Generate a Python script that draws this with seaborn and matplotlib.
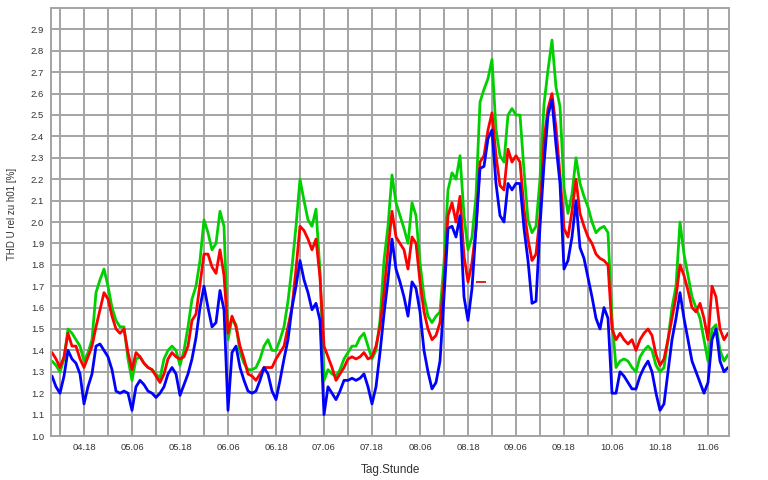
import numpy as np
import pandas as pd
import matplotlib
matplotlib.use("Agg")
import matplotlib.pyplot as plt
import seaborn as sns

# hours since day 04 00:00
hours = list(range(10, 180))

green = [1.35, 1.33, 1.30, 1.36, 1.50, 1.48, 1.45, 1.42, 1.35, 1.39,
         1.45, 1.67, 1.73, 1.78, 1.70, 1.60, 1.54, 1.51, 1.51, 1.36,
         1.26, 1.36, 1.37, 1.34, 1.32, 1.31, 1.29, 1.27, 1.36, 1.40,
         1.42, 1.40, 1.33, 1.40, 1.51, 1.64, 1.70, 1.82, 2.01, 1.95,
         1.87, 1.90, 2.05, 1.98, 1.45, 1.55, 1.52, 1.39, 1.34, 1.31,
         1.31, 1.32, 1.36, 1.42, 1.45, 1.40, 1.40, 1.45, 1.51, 1.63,
         1.79, 1.98, 2.20, 2.10, 2.01, 1.98, 2.06, 1.77, 1.26, 1.31,
         1.29, 1.28, 1.31, 1.36, 1.39, 1.42, 1.42, 1.46, 1.48, 1.42,
         1.36, 1.40, 1.54, 1.82, 1.98, 2.22, 2.09, 2.03, 1.97, 1.90,
         2.09, 2.03, 1.81, 1.65, 1.56, 1.53, 1.56, 1.58, 1.81, 2.15,
         2.23, 2.20, 2.31, 2.03, 1.87, 1.93, 2.12, 2.56, 2.62, 2.67,
         2.76, 2.43, 2.31, 2.28, 2.50, 2.53, 2.50, 2.50, 2.24, 2.01,
         1.95, 1.98, 2.20, 2.55, 2.71, 2.85, 2.63, 2.54, 2.16, 2.04,
         2.13, 2.30, 2.18, 2.12, 2.07, 2.00, 1.95, 1.97, 1.98, 1.95,
         1.55, 1.32, 1.35, 1.36, 1.35, 1.32, 1.30, 1.37, 1.40, 1.42,
         1.40, 1.33, 1.30, 1.32, 1.45, 1.60, 1.70, 2.00, 1.85, 1.75,
         1.65, 1.60, 1.55, 1.45, 1.35, 1.50, 1.52, 1.40, 1.35, 1.38]

red = [1.39, 1.36, 1.32, 1.37, 1.48, 1.42, 1.42, 1.36, 1.32, 1.37,
       1.42, 1.51, 1.59, 1.67, 1.64, 1.56, 1.50, 1.48, 1.50, 1.39,
       1.31, 1.39, 1.37, 1.34, 1.32, 1.31, 1.28, 1.25, 1.29, 1.36,
       1.39, 1.37, 1.36, 1.37, 1.42, 1.54, 1.57, 1.71, 1.85, 1.85,
       1.79, 1.76, 1.87, 1.75, 1.48, 1.56, 1.51, 1.42, 1.36, 1.29,
       1.28, 1.26, 1.29, 1.32, 1.32, 1.32, 1.36, 1.39, 1.42, 1.51,
       1.60, 1.78, 1.98, 1.96, 1.92, 1.87, 1.92, 1.74, 1.42, 1.37,
       1.32, 1.26, 1.29, 1.32, 1.36, 1.37, 1.36, 1.37, 1.39, 1.36,
       1.37, 1.42, 1.51, 1.67, 1.87, 2.05, 1.93, 1.90, 1.87, 1.78,
       1.93, 1.90, 1.72, 1.58, 1.50, 1.45, 1.47, 1.53, 1.72, 2.03,
       2.09, 2.00, 2.12, 1.84, 1.72, 1.81, 1.97, 2.28, 2.31, 2.43,
       2.51, 2.31, 2.17, 2.15, 2.34, 2.28, 2.31, 2.28, 2.06, 1.92,
       1.82, 1.85, 2.03, 2.38, 2.53, 2.60, 2.44, 2.22, 1.97, 1.93,
       2.05, 2.20, 2.04, 1.98, 1.93, 1.90, 1.85, 1.83, 1.82, 1.80,
       1.50, 1.45, 1.48, 1.45, 1.43, 1.45, 1.40, 1.45, 1.48, 1.50,
       1.47, 1.38, 1.33, 1.36, 1.45, 1.55, 1.65, 1.80, 1.75, 1.68,
       1.60, 1.58, 1.62, 1.55, 1.45, 1.70, 1.65, 1.50, 1.45, 1.48]

blue = [1.28, 1.23, 1.20, 1.28, 1.40, 1.36, 1.34, 1.29, 1.15, 1.23,
        1.29, 1.42, 1.43, 1.40, 1.37, 1.31, 1.21, 1.20, 1.21, 1.20,
        1.12, 1.23, 1.26, 1.24, 1.21, 1.20, 1.18, 1.20, 1.23, 1.29,
        1.32, 1.29, 1.19, 1.24, 1.29, 1.36, 1.46, 1.60, 1.70, 1.60,
        1.51, 1.53, 1.68, 1.59, 1.12, 1.39, 1.42, 1.32, 1.26, 1.21,
        1.20, 1.21, 1.26, 1.32, 1.29, 1.21, 1.17, 1.26, 1.36, 1.45,
        1.60, 1.70, 1.82, 1.73, 1.67, 1.59, 1.62, 1.54, 1.10, 1.23,
        1.20, 1.17, 1.21, 1.26, 1.26, 1.27, 1.26, 1.27, 1.29, 1.23,
        1.15, 1.23, 1.39, 1.57, 1.73, 1.92, 1.78, 1.72, 1.65, 1.56,
        1.72, 1.69, 1.58, 1.40, 1.30, 1.22, 1.25, 1.35, 1.65, 1.97,
        1.98, 1.93, 2.03, 1.65, 1.54, 1.69, 1.97, 2.25, 2.26, 2.39,
        2.43, 2.18, 2.03, 2.00, 2.18, 2.15, 2.18, 2.18, 1.97, 1.82,
        1.62, 1.63, 1.98, 2.27, 2.50, 2.57, 2.36, 2.18, 1.78, 1.82,
        1.93, 2.10, 1.88, 1.83, 1.74, 1.65, 1.55, 1.50, 1.60, 1.55,
        1.20, 1.20, 1.30, 1.28, 1.25, 1.22, 1.22, 1.28, 1.32, 1.35,
        1.30, 1.20, 1.12, 1.15, 1.30, 1.45, 1.55, 1.67, 1.55, 1.45,
        1.35, 1.30, 1.25, 1.20, 1.25, 1.45, 1.50, 1.35, 1.30, 1.32]

series_names = ["L1", "L2", "L3"]
series_colors = ["#00d000", "#ff0000", "#0000ff"]

tick_hours = list(range(18, 175, 12))
tick_labels = ["04.18", "05.06", "05.18", "06.06", "06.18", "07.06", "07.18",
               "08.06", "08.18", "09.06", "09.18", "10.06", "10.18", "11.06"]

cursor_t = [117.2]
cursor_v = [1.72]

df = pd.DataFrame({
    "t": hours * 3,
    "v": green + red + blue,
    "s": [series_names[0]] * len(hours) + [series_names[1]] * len(hours) + [series_names[2]] * len(hours),
})

sns.set_style("white")
plt.rcParams["font.family"] = ["Liberation Sans", "DejaVu Sans"]

fig = plt.figure(figsize=(7.68, 4.8), dpi=100)
ax = fig.add_axes([51 / 768, 44 / 480, 678 / 768, 428 / 480])

sns.lineplot(data=df, x="t", y="v", hue="s", hue_order=series_names,
             palette=series_colors, linewidth=2.0, legend=False, ax=ax,
             estimator=None, sort=False)
ax.plot(cursor_t, cursor_v, marker="_", markersize=7, color="#cc0000",
        linestyle="none", markeredgewidth=1.2)

ax.set_xlim(9.75, 179.25)
ax.set_ylim(1.0, 3.0)

grid_color = "#a4a4a4"
ax.set_xticks(tick_hours)
ax.set_xticklabels(tick_labels)
ax.set_xticks(list(range(12, 180, 12)), minor=True)
ax.set_yticks([round(1.0 + 0.1 * i, 1) for i in range(20)])
ax.set_yticklabels([f"{1.0 + 0.1 * i:.1f}" for i in range(20)])

ax.grid(True, which="both", color=grid_color, linewidth=1.4)
ax.set_axisbelow(True)
ax.tick_params(axis="both", which="major", labelsize=6.8, colors="#555555",
               labelcolor="#333333", length=3, width=1, direction="out", pad=2)
ax.tick_params(axis="x", which="minor", length=0)
for sp in ax.spines.values():
    sp.set_color(grid_color)
    sp.set_linewidth(1.4)

ax.set_xlabel("Tag.Stunde", fontsize=8.5, color="#333333")
ax.set_ylabel("THD U rel zu h01 [%]", fontsize=7, color="#333333")
ax.xaxis.set_label_coords(0.5, -0.065)
ax.yaxis.set_label_coords(-0.05, 0.52)

fig.savefig("out.png", dpi=100, facecolor="white")
